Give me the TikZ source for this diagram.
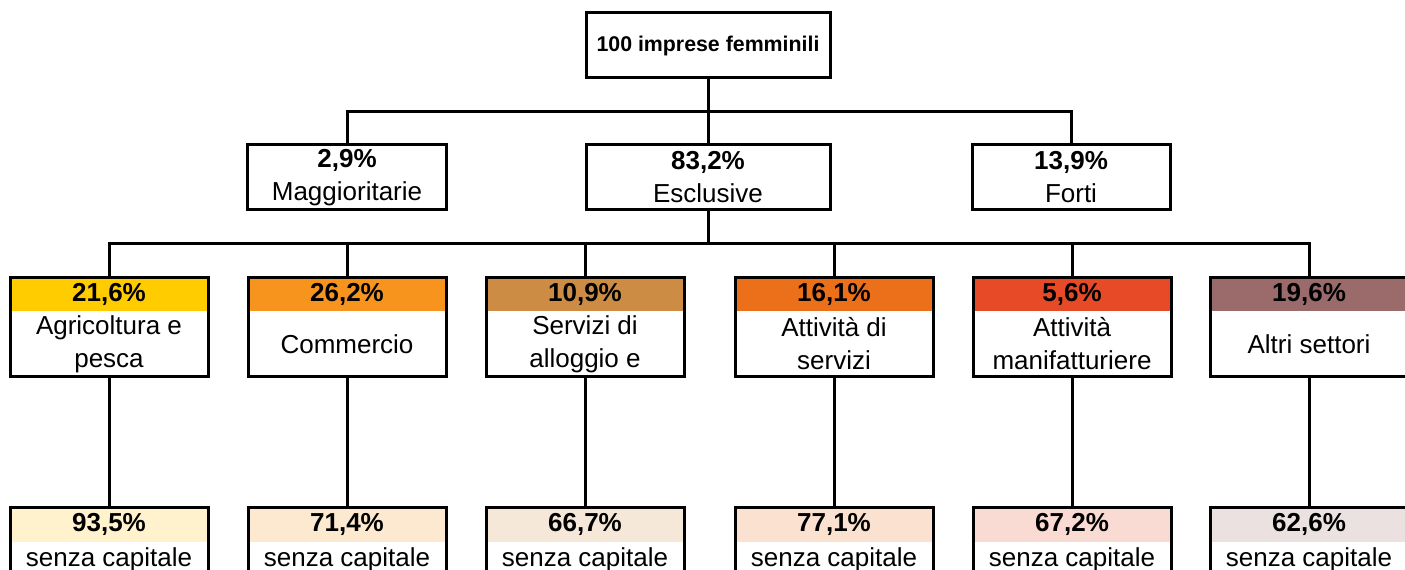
\documentclass[tikz,border=0pt]{standalone}
\usepackage{fontspec}
\setmainfont{Liberation Sans}

\definecolor{agrCol}{RGB}{255,204,0}
\definecolor{comCol}{RGB}{247,148,30}
\definecolor{serCol}{RGB}{205,140,67}
\definecolor{attCol}{RGB}{236,112,26}
\definecolor{manCol}{RGB}{230,74,38}
\definecolor{altCol}{RGB}{155,106,106}
\definecolor{agrPale}{RGB}{255,242,204}
\definecolor{comPale}{RGB}{253,233,208}
\definecolor{serPale}{RGB}{245,232,217}
\definecolor{attPale}{RGB}{251,226,208}
\definecolor{manPale}{RGB}{249,219,212}
\definecolor{altPale}{RGB}{235,225,225}

\tikzset{
  box/.style={draw, line width=2.25pt, inner sep=0pt, align=center, minimum height=48.75pt,
    font=\fontsize{19.5}{24.75}\selectfont},
  band/.style={inner sep=0pt, minimum width=147pt, minimum height=25.5pt,
    font=\bfseries\fontsize{19.5}{24.75}\selectfont},
  txt/.style={inner sep=0pt, align=center, font=\fontsize{19.5}{24.75}\selectfont},
  sectbox/.style={draw, line width=2.25pt, minimum width=148.5pt, minimum height=74.25pt, inner sep=0pt},
  link/.style={line width=2.25pt},
}

\begin{document}
\begin{tikzpicture}[x=0.75pt,y=0.75pt,yscale=-1,xscale=1]
\useasboundingbox (0,0) rectangle (1405,570);

%Shape: Rectangle [top]
\node[box, minimum width=183pt, font=\bfseries\fontsize{16}{19}\selectfont] (tot) at (708,45.5) {100 imprese femminili};

%Shape: Rectangle [second row]
\node[box, minimum width=149.25pt] (mag) at (347,177.5) {\textbf{2,9\%}\\Maggioritarie};
\node[box, minimum width=183pt] (esc) at (708,177.5) {\textbf{83,2\%}\\Esclusive};
\node[box, minimum width=148.5pt] (fort) at (1071,177.5) {\textbf{13,9\%}\\Forti};

% Junctions
\coordinate (j1) at (708,112);
\coordinate (j2) at (708,244);

%Shape: Sector bands
\node[band, fill=agrCol] (agrP) at (109,294) {21,6\%};
\node[band, fill=comCol] (comP) at (347,294) {26,2\%};
\node[band, fill=serCol] (serP) at (585,294) {10,9\%};
\node[band, fill=attCol] (attP) at (834,294) {16,1\%};
\node[band, fill=manCol] (manP) at (1072,294) {5,6\%};
\node[band, fill=altCol] (altP) at (1309,294) {19,6\%};

% Text Node
\node[txt] (agrT) at (109,344) {Agricoltura e\\pesca};
\node[txt] (comT) at (347,344) {Commercio};
\node[txt] (serT) at (585,344) {Servizi di\\alloggio e};
\node[txt] (attT) at (834,344) {Attività di\\servizi};
\node[txt] (manT) at (1072,344) {Attività\\manifatturiere};
\node[txt] (altT) at (1309,344) {Altri settori};

%Shape: Sector boxes
\node[sectbox] (agr) at (109,326.5) {};
\node[sectbox] (com) at (347,326.5) {};
\node[sectbox] (ser) at (585,326.5) {};
\node[sectbox] (att) at (834,326.5) {};
\node[sectbox] (man) at (1072,326.5) {};
\node[sectbox] (alt) at (1309,326.5) {};

%Shape: Bottom bands
\node[band, fill=agrPale] (agrQ) at (109,524.5) {93,5\%};
\node[band, fill=comPale] (comQ) at (347,524.5) {71,4\%};
\node[band, fill=serPale] (serQ) at (585,524.5) {66,7\%};
\node[band, fill=attPale] (attQ) at (834,524.5) {77,1\%};
\node[band, fill=manPale] (manQ) at (1072,524.5) {67,2\%};
\node[band, fill=altPale] (altQ) at (1309,524.5) {62,6\%};

% Text Node
\node[txt, anchor=base] (agrS) at (109,566) {senza capitale};
\node[txt, anchor=base] (comS) at (347,566) {senza capitale};
\node[txt, anchor=base] (serS) at (585,566) {senza capitale};
\node[txt, anchor=base] (attS) at (834,566) {senza capitale};
\node[txt, anchor=base] (manS) at (1072,566) {senza capitale};
\node[txt, anchor=base] (altS) at (1309,566) {senza capitale};

%Shape: Bottom boxes
\node[sectbox] (agrB) at (109,556.5) {};
\node[sectbox] (comB) at (347,556.5) {};
\node[sectbox] (serB) at (585,556.5) {};
\node[sectbox] (attB) at (834,556.5) {};
\node[sectbox] (manB) at (1072,556.5) {};
\node[sectbox] (altB) at (1309,556.5) {};

%Straight Lines
\draw[link] (tot) -- (j1);
\draw[link] (mag) |- (j1) -| (fort);
\draw[link] (j1) -- (esc);
\draw[link] (esc) -- (j2);
\draw[link] (agr) |- (j2) -| (alt);
\draw[link] (com) -- (com |- j2);
\draw[link] (ser) -- (ser |- j2);
\draw[link] (att) -- (att |- j2);
\draw[link] (man) -- (man |- j2);
\draw[link] (agr) -- (agrB);
\draw[link] (com) -- (comB);
\draw[link] (ser) -- (serB);
\draw[link] (att) -- (attB);
\draw[link] (man) -- (manB);
\draw[link] (alt) -- (altB);

\end{tikzpicture}
\end{document}
